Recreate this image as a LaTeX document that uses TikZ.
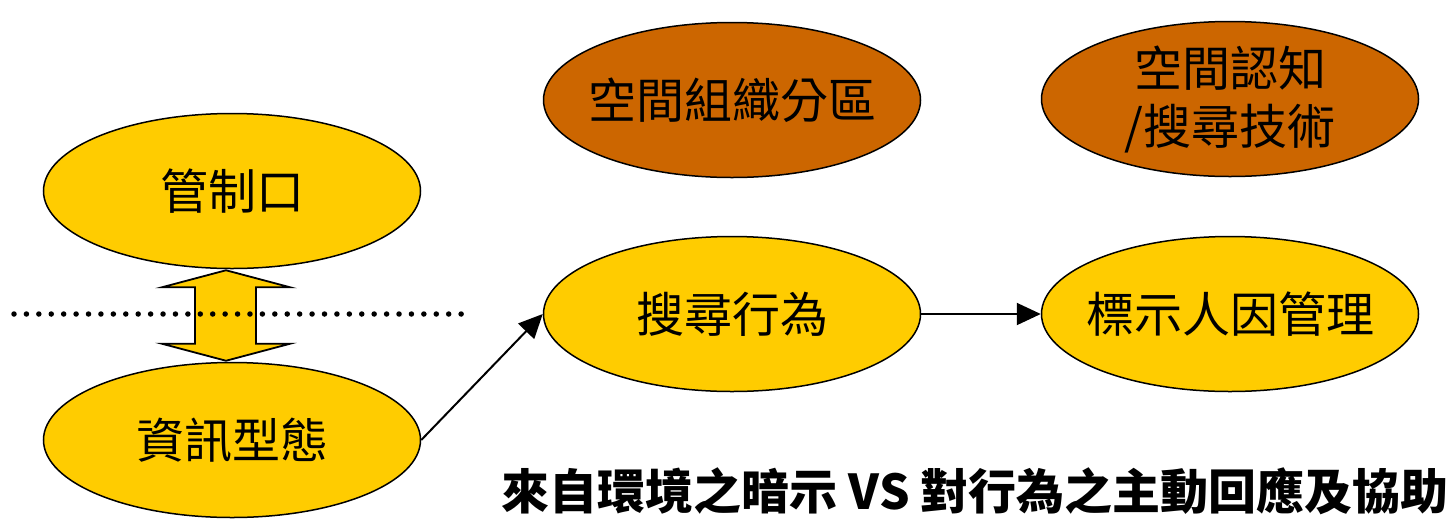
\documentclass[tikz,border=0pt]{standalone}
\usepackage{fontspec}
\newfontfamily\cjk{Noto Sans CJK TC}
\usetikzlibrary{shapes.geometric,arrows.meta,calc}
\definecolor{yel}{HTML}{FFCC00}
\definecolor{brn}{HTML}{CC6600}
\begin{document}
\begin{tikzpicture}[x=1pt,y=-1pt,
  oval/.style={ellipse, draw=black, line width=1.5pt, minimum width=377pt, minimum height=155pt, inner sep=-40pt, align=center, font=\cjk\fontsize{48}{58}\selectfont},
  yoval/.style={oval, fill=yel},
  boval/.style={oval, fill=brn},
  conn/.style={line width=2pt, -{Triangle[length=24pt,width=22pt]}}]
\useasboundingbox (0,0) rectangle (1450,523);
\node[yoval] (kz) at (232,191) {管制口};
\node[yoval] (zx) at (232,440) {資訊型態};
\node[boval] (kj) at (732,100) {空間組織分區};
\node[boval] (rz) at (1230,99) {空間認知\\/搜尋技術};
\node[yoval] (ss) at (732,314) {搜尋行為};
\node[yoval] (bs) at (1230,314) {標示人因管理};
% double arrow between kz and zx
\coordinate (ta) at ($(kz.south)+(-6,1)$);
\coordinate (tb) at ($(zx.north)+(-6,-1)$);
\filldraw[fill=yel, draw=black, line width=1.8pt]
  (ta) -- ($(ta)+(-64,17)$) -- ($(ta)+(-31,17)$) -- ($(tb)+(-31,-17)$) -- ($(tb)+(-64,-17)$)
  -- (tb) -- ($(tb)+(64,-17)$) -- ($(tb)+(30,-17)$) -- ($(ta)+(30,17)$) -- ($(ta)+(64,17)$) -- cycle;
% dotted line
\coordinate (d1) at (14,314);
\coordinate (d2) at (462,314);
\draw[line width=5.5pt, line cap=round, dash pattern=on 0pt off 12.42pt] (d1) -- (d2);
% connectors
\draw[conn] (zx.east) -- (ss.west);
\draw[conn] (ss.east) -- (bs.west);
% caption
\node[anchor=east, inner sep=0pt, font=\cjk\bfseries\fontsize{48}{52}\selectfont] (cap) at (1449,491) {來自環境之暗示 VS 對行為之主動回應及協助};
\end{tikzpicture}
\end{document}
